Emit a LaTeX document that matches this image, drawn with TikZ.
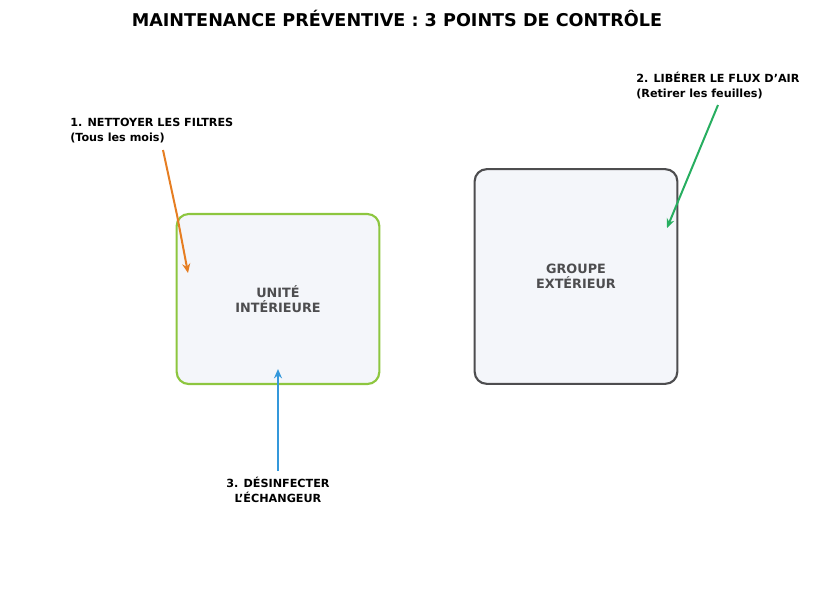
\documentclass[tikz,border=0pt]{standalone}
\usepackage{fontspec}
\setmainfont{DejaVu Sans}
\usetikzlibrary{arrows.meta}
\definecolor{boxfill}{HTML}{F4F6FA}
\definecolor{grn}{HTML}{8DC63F}
\definecolor{dgray}{HTML}{4D4D4F}
\definecolor{org}{HTML}{E67E22}
\definecolor{gar}{HTML}{27AE60}
\definecolor{blu}{HTML}{3498DB}
\begin{document}
\begin{tikzpicture}[x=0.75pt,y=-0.75pt,
  unit/.style={draw, line width=1.6pt, fill=boxfill, rounded corners=9pt, inner sep=0pt, text=dgray, font=\bfseries\fontsize{9.6}{11}\selectfont, align=center},
  lbl/.style={font=\bfseries\fontsize{8.4}{11}\selectfont, inner sep=0pt},
  arr/.style={line width=1.5pt, -{Stealth[length=7pt,width=6pt]}}]
\useasboundingbox (0,0) rectangle (825,601);
\node[font=\bfseries\fontsize{13.2}{16}\selectfont] (title) at (397,18) {MAINTENANCE PRÉVENTIVE : 3 POINTS DE CONTRÔLE};
\node[unit, draw=grn, minimum width=152pt, minimum height=127.5pt] (int) at (278,299) {UNITÉ\\INTÉRIEURE};
\node[unit, draw=dgray, minimum width=152pt, minimum height=161pt] (ext) at (576,276.5) {GROUPE\\EXTÉRIEUR};
\node[lbl, anchor=north west, align=left] (l1) at (70,118) {1. NETTOYER LES FILTRES\\(Tous les mois)};
\node[lbl, anchor=north west, align=left] (l2) at (636,72) {2. LIBÉRER LE FLUX D{\char"27}AIR\\(Retirer les feuilles)};
\node[lbl, anchor=north, align=center] (l3) at (278,477) {3. DÉSINFECTER\\L{\char"27}ÉCHANGEUR};
\coordinate (a1) at (163,150);
\coordinate (b1) at (188,273);
\coordinate (a2) at (718,105);
\coordinate (b2) at (667,228);
\coordinate (a3) at (278,471);
\coordinate (b3) at (278,369);
\draw[arr, org] (a1) -- (177,215) -- (b1);
\draw[arr, gar] (a2) -- (b2);
\draw[arr, blu] (a3) -- (b3);
\end{tikzpicture}
\end{document}
